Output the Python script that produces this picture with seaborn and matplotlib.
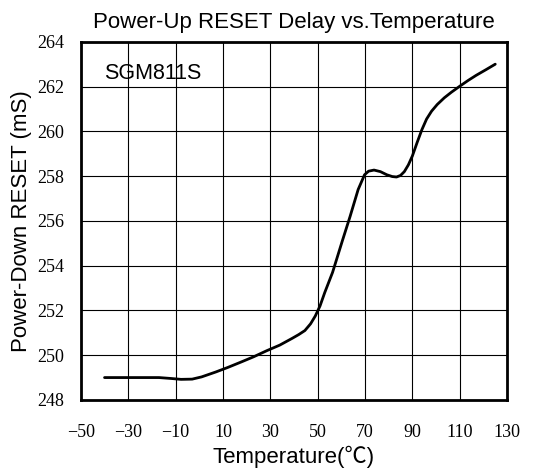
import matplotlib
matplotlib.use('Agg')
import matplotlib.pyplot as plt
import seaborn as sns
import pandas as pd

# curve
temperature = [-40, -30, -17, -12, -7.7, -3, 1, 7, 12, 17.8, 23, 28.5, 34, 39.2, 42,
               44.6, 47, 49, 51, 53, 56.3, 60.4, 63.7, 67.1, 69.8, 71.5, 73.8, 76.5,
               79.2, 81.5, 83.3, 85, 86.6, 88.3, 90, 92, 94, 96, 98.1, 100.5,
               103.5, 106.5, 110.2, 113.5, 116.9, 121, 125]
delay = [249.0, 249.0, 249.0, 248.96, 248.92, 248.93, 249.03, 249.25, 249.45, 249.7,
         249.93, 250.2, 250.45, 250.75, 250.92, 251.1, 251.4, 251.75, 252.2, 252.8,
         253.7, 255.1, 256.2, 257.4, 258.06, 258.22, 258.27, 258.2,
         258.06, 257.98, 257.96, 258.03, 258.2, 258.5, 258.9, 259.5, 260.07,
         260.55, 260.9, 261.2, 261.5, 261.75, 262.03, 262.27, 262.5, 262.75, 263.0]

x_ticks = [-50, -30, -10, 10, 30, 50, 70, 90, 110, 130]
y_ticks = [248, 250, 252, 254, 256, 258, 260, 262, 264]

sans = ['Liberation Sans', 'Noto Sans CJK SC', 'DejaVu Sans']
serif = ['Liberation Serif', 'DejaVu Serif']

sns.set_theme(style='white')
plt.rcParams['font.family'] = sans
plt.rcParams['axes.unicode_minus'] = True

df = pd.DataFrame({'Temperature': temperature, 'Delay': delay})

fig = plt.figure(figsize=(5.5, 4.75), dpi=100)
ax = fig.add_axes([0.147, 0.158, 0.775, 0.754])

sns.lineplot(data=df, x='Temperature', y='Delay', ax=ax, color='black',
             linewidth=2.0, sort=False)

ax.set_xlim(-50, 130)
ax.set_ylim(248, 264)
ax.set_xticks(x_ticks)
ax.set_yticks(y_ticks)
ax.grid(True, color='black', linewidth=0.8)
for s in ax.spines.values():
    s.set_color('black')
    s.set_linewidth(2.0)
ax.tick_params(axis='y', length=0, pad=12, labelsize=13, colors='black')
ax.tick_params(axis='x', length=0, pad=17, labelsize=13, colors='black')
for lab in ax.get_xticklabels() + ax.get_yticklabels():
    lab.set_family(serif)

ax.set_xlabel('Temperature(℃)', fontsize=16, color='black', labelpad=4)
ax.set_ylabel('Power-Down RESET (mS)', fontsize=16, color='black', labelpad=4)
ax.set_title('Power-Up RESET Delay vs.Temperature', fontsize=16, color='black', pad=10)
ax.text(-40, 262.6, 'SGM811S', fontsize=15.5, va='center', ha='left', color='black')

fig.savefig('out.png', dpi=100)
